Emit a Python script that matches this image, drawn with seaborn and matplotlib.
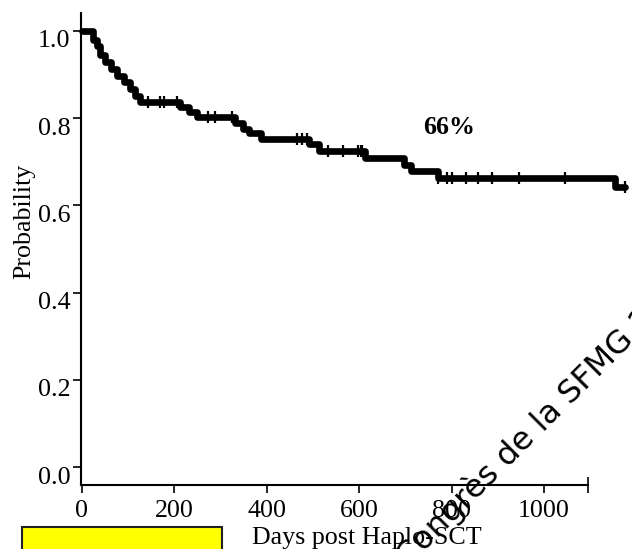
import numpy as np
import pandas as pd
import seaborn as sns
import matplotlib
matplotlib.use("Agg")
import matplotlib.pyplot as plt
import matplotlib.transforms as mtransforms
from matplotlib.patches import Rectangle

# ---- data ----
event_days = [0, 25, 33, 40, 50, 63, 76, 90, 104, 115, 126, 212, 232, 248,
              332, 348, 362, 387, 492, 512, 612, 697, 712, 771, 1154, 1175]
survival = [1.0, 0.980, 0.965, 0.945, 0.928, 0.912, 0.897, 0.882, 0.866, 0.851,
            0.837, 0.826, 0.814, 0.803, 0.789, 0.775, 0.766, 0.752, 0.740, 0.724,
            0.709, 0.693, 0.679, 0.662, 0.641, 0.641]
censor_days = [142, 169, 177, 205, 273, 288, 324, 465, 476, 487, 533, 566, 597,
               603, 607, 771, 790, 802, 831, 857, 888, 946, 1045, 1175]
x_ticks = [0, 200, 400, 600, 800, 1000]
y_ticks = [0.0, 0.2, 0.4, 0.6, 0.8, 1.0]
y_ticklabels = ["0.0", "0.2", "0.4", "0.6", "0.8", "1.0"]
annotation = "66%"
x_label = "Days post Haplo-SCT"
y_label = "Probability"
watermark = "Congrès de la SFMG 2009"

sns.set_style("ticks")
plt.rcParams["font.family"] = ["Liberation Serif", "DejaVu Serif"]

W, H, DPI = 632, 549, 100
fig = plt.figure(figsize=(W / DPI, H / DPI), dpi=DPI)
ax = fig.add_axes([81 / W, (H - 485) / H, (W - 81) / W, (485 - 13) / H])
ax.set_facecolor("none")

curve = pd.DataFrame({"day": event_days, "surv": survival})
idx = np.searchsorted(np.array(event_days), np.array(censor_days), side="right") - 1
cens = pd.DataFrame({"day": censor_days, "surv": np.array(survival)[idx]})

sns.lineplot(data=curve, x="day", y="surv", drawstyle="steps-post", color="black",
             linewidth=4.8, ax=ax, clip_on=False, estimator=None)
sns.scatterplot(data=cens, x="day", y="surv", marker="|", s=75, color="black",
                linewidth=1.6, ax=ax, clip_on=False, zorder=5)

ax.set_xlim(-2, (W - 82) / 0.462)
ax.set_ylim(-0.041, 1.041)
ax.set_xlabel("")
ax.set_ylabel("")
ax.set_xticks(x_ticks)
ax.set_xticklabels([str(t) for t in x_ticks])
ax.set_xticks([1095], minor=True)
ax.set_yticks(y_ticks)
ax.set_yticklabels(y_ticklabels)

for s in ["top", "right"]:
    ax.spines[s].set_visible(False)
for s in ["left", "bottom"]:
    ax.spines[s].set_linewidth(1.5)
    ax.spines[s].set_color("black")
ax.spines["bottom"].set_bounds(-2, 1095)

ax.tick_params(axis="both", which="major", direction="out", length=6, width=1.2,
               color="black", labelsize=18.7, labelcolor="black")
ax.tick_params(axis="y", pad=1.5)
ax.tick_params(axis="x", pad=5)
ax.tick_params(axis="x", which="minor", direction="inout", length=11, width=1.2, color="black")

offset = mtransforms.ScaledTranslation(0, -8 / DPI, fig.dpi_scale_trans)
for lab in ax.get_yticklabels():
    lab.set_transform(lab.get_transform() + offset)

ax.text(794, 0.764, annotation, ha="center", va="baseline", fontsize=18.7,
        fontweight="bold", color="black")

fig.text(252 / W, 1 - 544 / H, x_label, ha="left", va="baseline", fontsize=18.7,
         color="black")
fig.text(24 / W, 1 - 221 / H, y_label, ha="center", va="center", rotation=90,
         fontsize=18.7, color="black")

fig.patches.append(Rectangle((22 / W, -0.02), 200 / W, (H - 527) / H + 0.02,
                             transform=fig.transFigure, facecolor="#ffff00",
                             edgecolor="#222222", linewidth=1.5, zorder=3))

fig.text(408 / W, 1 - 568 / H, watermark, rotation=45, rotation_mode="anchor",
         ha="left", va="baseline", fontsize=23, family="DejaVu Sans",
         color="black", zorder=10)

fig.savefig("out.png", dpi=DPI)
